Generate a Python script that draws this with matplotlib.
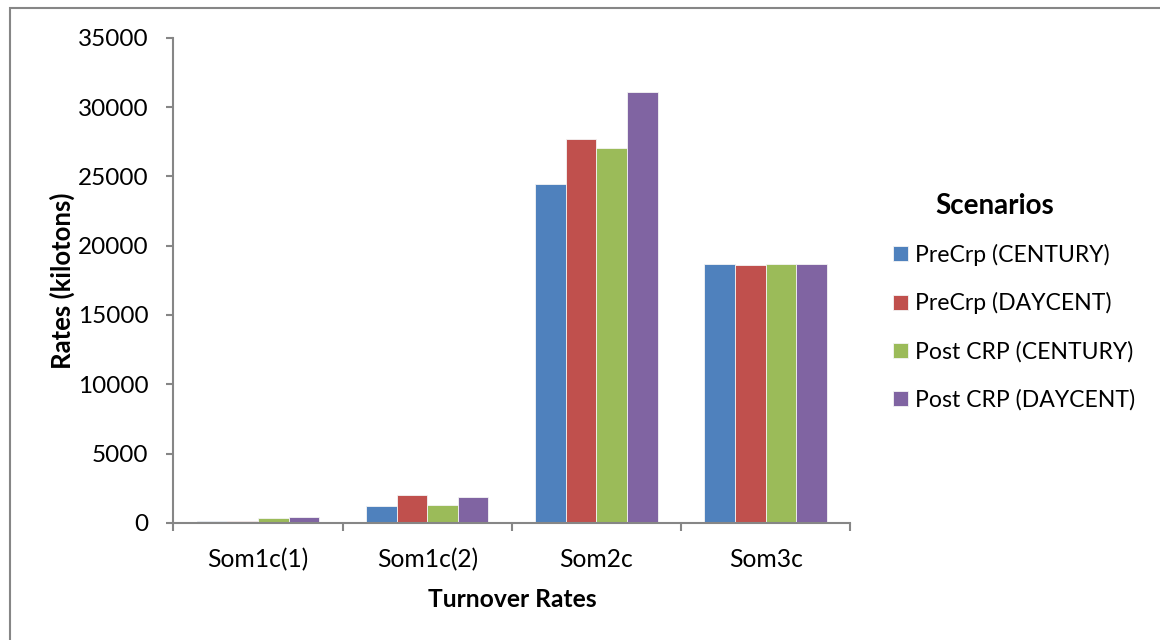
import matplotlib
matplotlib.use("Agg")
import matplotlib.pyplot as plt
import numpy as np
from matplotlib.patches import Rectangle

# turnover rates per pool, kilotons
categories = ["Som1c(1)", "Som1c(2)", "Som2c", "Som3c"]
scenarios = ["PreCrp (CENTURY)", "PreCrp (DAYCENT)", "Post CRP (CENTURY)", "Post CRP (DAYCENT)"]
precrp_century = [100, 1230, 24440, 18680]
precrp_daycent = [100, 2000, 27690, 18600]
postcrp_century = [330, 1320, 27060, 18680]
postcrp_daycent = [400, 1900, 31090, 18650]
colors = ["#4F81BD", "#C0504D", "#9BBB59", "#8064A2"]
yticks = [0, 5000, 10000, 15000, 20000, 25000, 30000, 35000]

plt.rcParams["font.family"] = ["Lato", "DejaVu Sans"]
GREY = "#868686"

fig = plt.figure(figsize=(11.6, 6.4), dpi=100, facecolor="white")
ax = fig.add_axes([0.1495, 0.183, 0.5835, 0.758])

series = [precrp_century, precrp_daycent, postcrp_century, postcrp_daycent]
x = np.arange(len(categories))
w = 0.181
for i, (vals, name) in enumerate(zip(series, scenarios)):
    ax.bar(x + (i - 1.5) * w, vals, width=w, color=colors[i], label=name,
           edgecolor="#f4f4f4", linewidth=0.6)

ax.set_xlim(-0.5, len(categories) - 0.5)
ax.set_ylim(0, 35000)
ax.set_yticks(yticks)
ax.set_yticklabels([str(t) for t in yticks], fontsize=17.5)

# category labels centred, ticks on the boundaries
ax.set_xticks(x)
ax.set_xticklabels(categories, fontsize=17.7)
ax.tick_params(axis="x", length=0, pad=18)
ax.set_xticks(np.arange(len(categories) + 1) - 0.5, minor=True)
ax.tick_params(axis="x", which="minor", length=6, width=1.5, color=GREY, direction="out")
ax.tick_params(axis="y", length=5, width=1.5, color=GREY, direction="out", pad=13)

for side in ["top", "right"]:
    ax.spines[side].set_visible(False)
for side in ["left", "bottom"]:
    ax.spines[side].set_color(GREY)
    ax.spines[side].set_linewidth(1.5)

ax.set_xlabel("Turnover Rates", fontsize=17.7, fontweight="bold", labelpad=12)
ax.set_ylabel("Rates (kilotons)", fontsize=18.5, fontweight="bold", labelpad=2)

# legend with its heading drawn separately
fig.text(935 / 1160, 1 - 206 / 640, "Scenarios", fontsize=20, fontweight="bold",
         ha="left", va="center")
ax.legend(loc="center left", bbox_to_anchor=(893 / 1160, 1 - 327 / 640),
          bbox_transform=fig.transFigure, frameon=False, fontsize=16.6,
          borderpad=0, borderaxespad=0, handlelength=0.65, handleheight=0.65,
          handletextpad=0.3, labelspacing=1.15)

# chart-area border
fig.patches.append(Rectangle((10 / 1160, -0.1), 1.2, 1.1 - 8 / 640, transform=fig.transFigure,
                             fill=False, edgecolor=GREY, linewidth=1.5))

fig.savefig("out.png", dpi=100, facecolor="white")
